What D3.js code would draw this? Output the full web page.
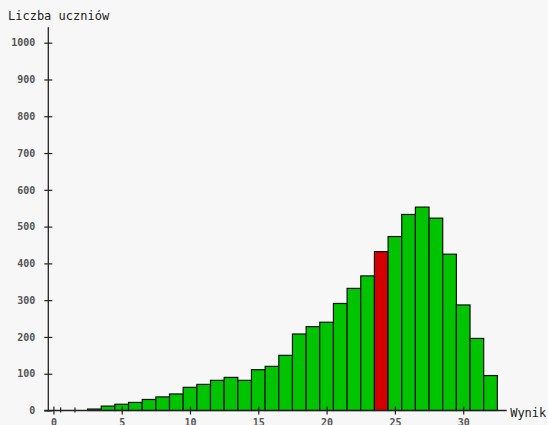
<!DOCTYPE html>
<html>
<head>
<meta charset="utf-8">
<script src="https://cdn.jsdelivr.net/npm/d3@7/dist/d3.min.js"></script>
<style>
  html, body { margin: 0; padding: 0; background: #f7f7f7; }
  svg { display: block; }
  .tick text { font-family: "DejaVu Sans Mono", monospace; font-size: 10px; font-weight: bold; fill: #555; }
</style>
</head>
<body>
<svg id="chart" width="548" height="425"></svg>
<script>
// ---- data ----
const scores = d3.range(0, 33);
const counts = [0, 0, 0, 4, 12, 17, 22, 30, 37, 45, 63, 71, 82, 90, 82, 111, 120, 150,
                208, 228, 240, 291, 332, 366, 432, 473, 533, 553, 523, 425, 287, 196, 95];
const highlightScore = 24;
const xTickValues = [0, 5, 10, 15, 20, 25, 30];
const yTickValues = [0, 100, 200, 300, 400, 500, 600, 700, 800, 900, 1000];
const minorMarks = [0.53, 1.58];
const yTitle = "Liczba uczniów";
const xTitle = "Wynik";

// ---- layout ----
const svg = d3.select("#chart");
const x = d3.scaleLinear().domain([0, 33]).range([53.4, 53.4 + 33 * 13.66]);
const y = d3.scaleLinear().domain([0, 1000]).range([410.5, 42.7]);
const axisX = 48.3;
const bw = x(1) - x(0);

svg.append("rect").attr("width", 548).attr("height", 425).attr("fill", "#f7f7f7");

// bars
svg.append("g").selectAll("rect")
  .data(scores.map((s, i) => ({ s, v: counts[i] })).filter(d => d.v > 0))
  .join("rect")
  .attr("x", d => x(d.s) - bw / 2)
  .attr("y", d => y(d.v))
  .attr("width", bw)
  .attr("height", d => y(0) - y(d.v))
  .attr("fill", d => d.s === highlightScore ? "#d40000" : "#00c400")
  .attr("stroke", "#111")
  .attr("stroke-width", 1.2);

// y axis
const yAxis = d3.axisLeft(y).tickValues(yTickValues).tickSize(0).tickPadding(13).tickFormat(d3.format("d"));
const gy = svg.append("g").attr("transform", `translate(${axisX},0)`).call(yAxis);
gy.select(".domain").remove();
gy.selectAll(".tick").append("line").attr("x1", -4).attr("x2", 4).attr("stroke", "#222").attr("stroke-width", 1.2);
svg.append("line").attr("x1", axisX).attr("x2", axisX).attr("y1", y(0) + 1).attr("y2", y(1042))
  .attr("stroke", "#222").attr("stroke-width", 1.3);

// x axis
const xAxis = d3.axisBottom(x).tickValues(xTickValues).tickSize(0).tickPadding(8).tickFormat(d3.format("d"));
const gx = svg.append("g").attr("transform", `translate(0,${y(0)})`).call(xAxis);
gx.select(".domain").remove();
gx.selectAll(".tick").append("line").attr("y1", -4).attr("y2", 4).attr("stroke", "#222").attr("stroke-width", 1.2);
svg.append("g").selectAll("line").data(minorMarks).join("line")
  .attr("x1", d => x(d)).attr("x2", d => x(d))
  .attr("y1", y(0) - 3).attr("y2", y(0) + 2)
  .attr("stroke", "#222").attr("stroke-width", 1.2);
svg.append("line").attr("x1", axisX - 4).attr("x2", x(33) + 2.5).attr("y1", y(0)).attr("y2", y(0))
  .attr("stroke", "#222").attr("stroke-width", 1.3);

// titles
svg.append("text").attr("x", 8).attr("y", 20).text(yTitle)
  .attr("font-family", "DejaVu Sans Mono, monospace").attr("font-size", 12).attr("fill", "#222");
svg.append("text").attr("x", x(33) + 6).attr("y", y(0) + 6.5).text(xTitle)
  .attr("font-family", "DejaVu Sans Mono, monospace").attr("font-size", 12).attr("fill", "#222");
</script>
</body>
</html>
